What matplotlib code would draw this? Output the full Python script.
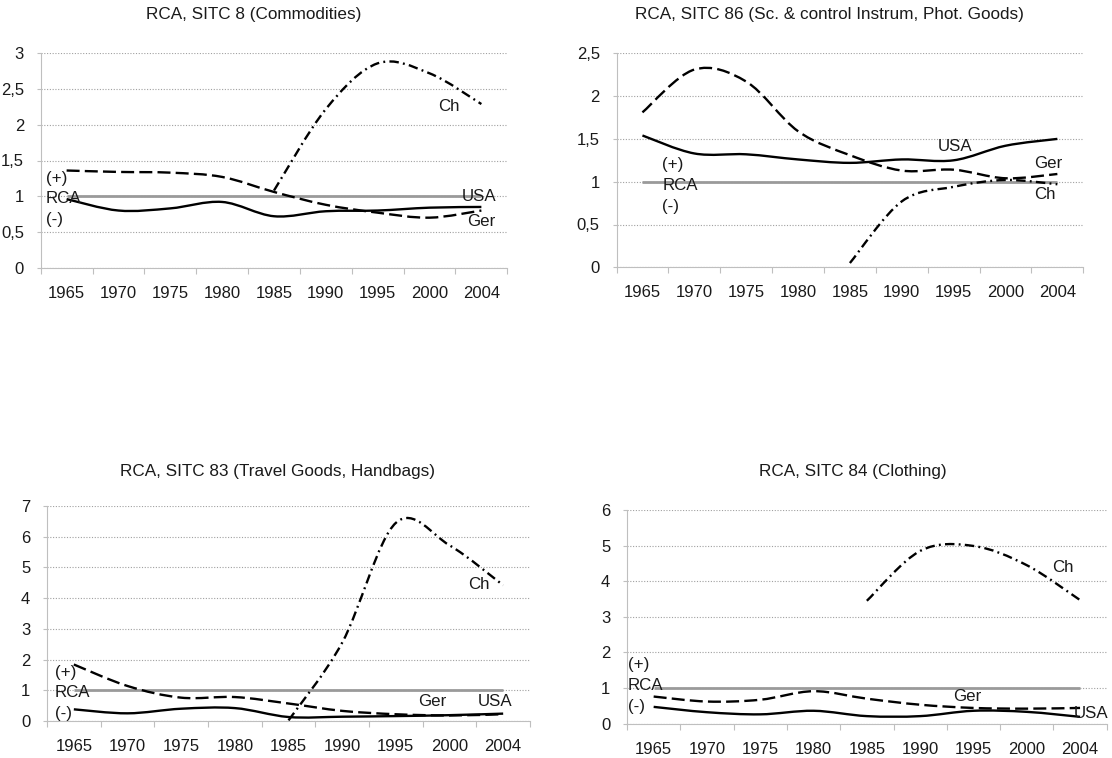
import numpy as np
import matplotlib
matplotlib.use("Agg")
import matplotlib.pyplot as plt
from matplotlib.path import Path
from matplotlib.patches import PathPatch
from matplotlib.ticker import FuncFormatter, MultipleLocator

plt.rcParams['font.family'] = ['Liberation Sans', 'DejaVu Sans']

years = ['1965', '1970', '1975', '1980', '1985', '1990', '1995', '2000', '2004']
nan = np.nan

# SITC 8 (Commodities)
sitc8_usa = [0.96, 0.80, 0.83, 0.92, 0.72, 0.79, 0.80, 0.84, 0.85]
sitc8_ger = [1.36, 1.34, 1.33, 1.27, 1.06, 0.88, 0.77, 0.70, 0.80]
sitc8_ch = [nan, nan, nan, nan, 1.08, 2.22, 2.86, 2.72, 2.29]

# SITC 86 (Sc. & control Instrum, Phot. Goods)
sitc86_usa = [1.54, 1.33, 1.32, 1.26, 1.22, 1.26, 1.25, 1.42, 1.50]
sitc86_ger = [1.81, 2.31, 2.17, 1.59, 1.31, 1.13, 1.14, 1.04, 1.09]
sitc86_ch = [nan, nan, nan, nan, 0.05, 0.77, 0.94, 1.02, 0.97]

# SITC 83 (Travel Goods, Handbags)
sitc83_usa = [0.38, 0.25, 0.40, 0.42, 0.13, 0.14, 0.16, 0.19, 0.24]
sitc83_ger = [1.84, 1.14, 0.76, 0.78, 0.57, 0.33, 0.22, 0.18, 0.22]
sitc83_ch = [nan, nan, nan, nan, 0.02, 2.55, 6.45, 5.72, 4.42]

# SITC 84 (Clothing)
sitc84_usa = [0.47, 0.32, 0.26, 0.36, 0.21, 0.21, 0.36, 0.33, 0.19]
sitc84_ger = [0.76, 0.62, 0.67, 0.91, 0.70, 0.53, 0.44, 0.42, 0.44]
sitc84_ch = [nan, nan, nan, nan, 3.45, 4.85, 4.99, 4.45, 3.47]


def smooth_line(ax, values, **kw):
    # smoothed line like Excel: Catmull-Rom segments as cubic Beziers
    y = np.asarray(values, dtype=float)
    x = np.arange(len(y), dtype=float)
    ok = ~np.isnan(y)
    pts = np.column_stack([x[ok], y[ok]])
    p = np.vstack([pts[:1], pts, pts[-1:]])
    verts = [pts[0]]
    codes = [Path.MOVETO]
    for i in range(1, len(p) - 2):
        c1 = p[i] + (p[i + 1] - p[i - 1]) / 6
        c2 = p[i + 1] - (p[i + 2] - p[i]) / 6
        verts += [c1, c2, p[i + 1]]
        codes += [Path.CURVE4] * 3
    ax.add_patch(PathPatch(Path(verts, codes), fill=False, capstyle='butt', **kw))


W, H = 1112, 758
fig = plt.figure(figsize=(W / 100, H / 100), dpi=100)

text_c = '#1a1a1a'
fs = 12


def make_panel(box, title, title_xy, ymax, ystep, usa, ger, ch, labels):
    l, t, r, b = box
    ax = fig.add_axes([l / W, 1 - b / H, (r - l) / W, (b - t) / H])
    ax.set_xlim(-0.5, len(years) - 0.5)
    ax.set_ylim(0, ymax)
    ax.yaxis.set_major_locator(MultipleLocator(ystep))
    ax.yaxis.set_major_formatter(FuncFormatter(lambda v, _: f"{v:g}".replace('.', ',')))
    ax.set_xticks(np.arange(len(years) + 1) - 0.5)
    ax.set_xticklabels([])
    ax.set_xticks(np.arange(len(years)), minor=True)
    ax.set_xticklabels(years, minor=True)
    ax.tick_params(axis='x', which='major', length=4, color='#bfbfbf', direction='out')
    ax.tick_params(axis='x', which='minor', length=0, pad=13, labelsize=fs, labelcolor=text_c)
    ax.tick_params(axis='y', length=3, color='#bfbfbf', pad=9, labelsize=fs, labelcolor=text_c)
    for s in ['top', 'right']:
        ax.spines[s].set_visible(False)
    for s in ['left', 'bottom']:
        ax.spines[s].set_color('#bfbfbf')
    ax.yaxis.grid(True, linestyle=(0, (1, 1.5)), color='#a0a0a0', lw=0.8)
    ax.set_axisbelow(True)

    ax.hlines(1, 0, len(years) - 1, color='#9a9a9a', lw=2.0, zorder=2)
    smooth_line(ax, usa, color='black', lw=1.7, zorder=3)
    smooth_line(ax, ger, color='black', lw=1.7, linestyle=(0, (5.5, 2.2)), zorder=3)
    smooth_line(ax, ch, color='black', lw=1.7, linestyle=(0, (4, 1.8, 0.8, 1.8)), zorder=3)

    for txt, x, y in labels:
        ax.text(x, y, txt, ha='left', va='center', fontsize=12.2, color=text_c, zorder=4)

    fig.text(title_xy[0] / W, 1 - title_xy[1] / H, title, ha='center', va='center',
             fontsize=12.3, color=text_c)
    return ax


make_panel((40.7, 53.3, 507.3, 267.7), 'RCA, SITC 8 (Commodities)', (254, 15), 3, 0.5,
           sitc8_usa, sitc8_ger, sitc8_ch,
           [('(+)', -0.4, 1.25), ('RCA', -0.4, 0.97), ('(-)', -0.4, 0.67),
            ('USA', 7.63, 0.99), ('Ger', 7.73, 0.64), ('Ch', 7.17, 2.26)])

make_panel((616.5, 53.3, 1083.3, 267.3), 'RCA, SITC 86 (Sc. & control Instrum, Phot. Goods)',
           (829, 15), 2.5, 0.5, sitc86_usa, sitc86_ger, sitc86_ch,
           [('(+)', 0.38, 1.20), ('RCA', 0.38, 0.96), ('(-)', 0.38, 0.71),
            ('USA', 5.70, 1.41), ('Ger', 7.55, 1.21), ('Ch', 7.55, 0.85)])

make_panel((47, 506, 530, 721), 'RCA, SITC 83 (Travel Goods, Handbags)', (277, 471), 7, 1,
           sitc83_usa, sitc83_ger, sitc83_ch,
           [('(+)', -0.35, 1.57), ('RCA', -0.35, 0.92), ('(-)', -0.35, 0.25),
            ('Ger', 6.41, 0.62), ('USA', 7.53, 0.62), ('Ch', 7.35, 4.46)])

make_panel((627, 510, 1106.7, 723.6), 'RCA, SITC 84 (Clothing)', (853, 471), 6, 1,
           sitc84_usa, sitc84_ger, sitc84_ch,
           [('(+)', -0.49, 1.65), ('RCA', -0.49, 1.07), ('(-)', -0.49, 0.47),
            ('Ger', 5.61, 0.77), ('USA', 7.89, 0.28), ('Ch', 7.47, 4.39)])

fig.savefig('out.png', dpi=100)
